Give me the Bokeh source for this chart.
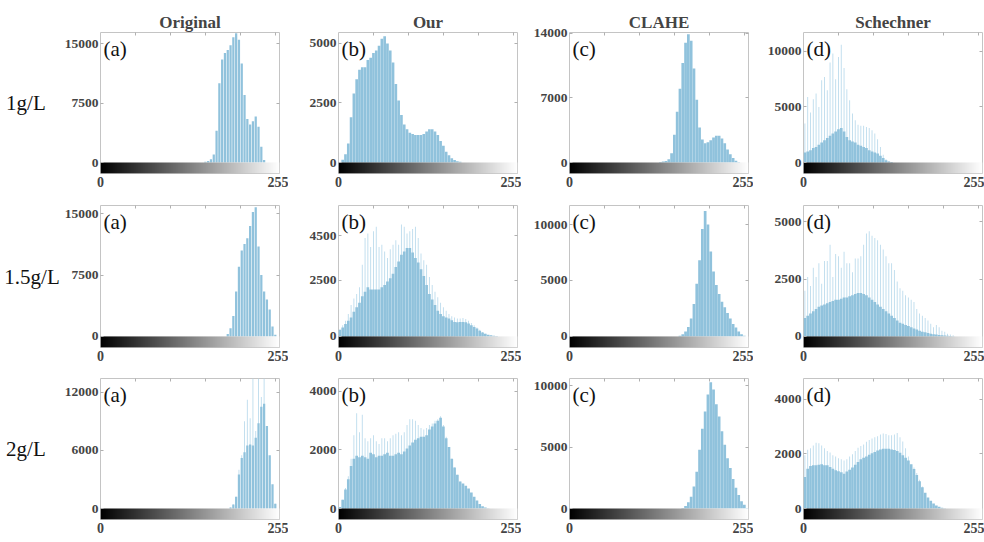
import numpy as np
from bokeh.plotting import figure
from bokeh.layouts import column, row
from bokeh.models import FixedTicker, Label, Range1d, LinearAxis
from bokeh.embed import file_html
from bokeh.resources import INLINE
from bokeh.palettes import Greys256

# ---------------- data (histogram counts, 64 bins of 4 grey levels) ----------------
COL_TITLES = ["Original", "Our", "CLAHE", "Schechner"]
ROW_LABELS = ["1g/L", "1.5g/L", "2g/L"]
PANEL_TAGS = ["(a)", "(b)", "(c)", "(d)"]
X_TICKS = [0, 256]
X_TICK_LABELS = ["0", "255"]
TOP_TICKS = [50, 100, 150, 200, 250]
BIN_WIDTH = 4
N_BINS = 64

# Original
ORIG_1G_START = 37
ORIG_1G = [100, 200, 400, 1000, 4000, 10000, 13000, 13800, 14200, 14800, 15800, 16300,
           15500, 12500, 8500, 5500, 4800, 5200, 5800, 4500, 2000, 300]
ORIG_15G_START = 45
ORIG_15G = [300, 1000, 2500, 5500, 8500, 10500, 11300, 12000, 13500, 15200, 15800, 11000,
            7500, 5500, 4500, 3300, 1200, 200]
ORIG_2G_START = 46
ORIG_2G = [100, 400, 1200, 3500, 5200, 5800, 6500, 6600, 6500, 7300, 8800, 10500, 10800,
           8500, 5500, 2500, 500]
ORIG_2G_SPIKES = [100, 400, 1200, 4000, 5500, 9000, 11200, 9300, 13500, 8000, 13500, 11500,
                  13500, 8000, 5000, 2000, 500]

# Our
OUR_1G = [20, 120, 350, 800, 1900, 2900, 3500, 3900, 4000, 4000, 4300, 4400, 4600, 4700, 4900,
          5200, 5300, 5000, 4700, 4200, 3300, 2600, 2000, 1600, 1400, 1250, 1200, 1150, 1150,
          1150, 1200, 1300, 1400, 1400, 1300, 1150, 900, 700, 450, 300, 180, 100, 50, 30]
OUR_15G = [300, 400, 550, 700, 850, 1100, 1300, 1500, 1800, 2000, 2200, 2100, 2100, 2100, 2100,
           2200, 2300, 2450, 2600, 2800, 3100, 3350, 3650, 3800, 3950, 3950, 3750, 3500, 3300,
           3000, 2700, 2300, 1900, 1650, 1400, 1150, 1000, 900, 850, 800, 720, 650, 630, 650,
           650, 630, 580, 500, 420, 350, 250, 180, 120, 80, 50, 30, 20]
OUR_15G_SPIKES = [300, 500, 700, 1000, 1400, 1700, 1900, 2200, 3200, 4400, 4600, 4000, 4700,
                  4900, 4000, 4100, 3800, 3500, 3900, 4100, 4300, 4100, 5000, 4900, 4600, 4700,
                  4800, 4900, 4400, 3700, 3400, 3200, 2650, 2300, 2000, 1750, 1500, 1300, 1150,
                  1000, 900, 850, 800, 800, 820, 780, 700, 600, 500, 400, 300, 200, 120]
OUR_2G = [50, 300, 650, 1000, 1450, 1700, 1800, 1750, 1800, 1750, 1700, 1900, 1850, 1750, 1800,
          1800, 1850, 1900, 1800, 1800, 1850, 1900, 1850, 1950, 2050, 2150, 2250, 2350, 2400,
          2450, 2450, 2500, 2700, 2800, 2900, 3000, 3100, 2800, 2400, 2100, 1700, 1400, 1150,
          920, 850, 780, 680, 550, 400, 270, 150, 80, 30, 10]
OUR_2G_SPIKES = [50, 300, 700, 1100, 1700, 2500, 3250, 2600, 3200, 2400, 2300, 2400, 2500, 2300,
                 2200, 2400, 2400, 2300, 2400, 2500, 2550, 2600, 2500, 2600, 2850, 3050, 3050,
                 3000, 2850, 2750, 2700, 2750, 2850, 2900, 3000, 3050, 3150, 2850, 2450, 2100,
                 1700, 1400, 1150, 920]

# CLAHE
CLAHE_1G_START = 32
CLAHE_1G = [50, 100, 150, 350, 1000, 3000, 5500, 8000, 10800, 13000, 13900, 13200, 10200, 6800,
            3800, 2500, 2100, 2200, 2400, 2700, 2900, 2900, 2600, 2100, 1400, 900, 500, 200, 50]
CLAHE_15G_START = 39
CLAHE_15G = [50, 200, 450, 850, 1600, 2900, 4700, 6800, 9600, 11200, 10000, 7600, 5800, 4600,
             3800, 3100, 2600, 2100, 1600, 1100, 800, 450, 200, 50]
CLAHE_2G_START = 40
CLAHE_2G = [50, 200, 500, 950, 1800, 3000, 4800, 6500, 7900, 9300, 10300, 9700, 8500, 7500,
            6300, 5200, 4100, 3300, 2400, 1700, 1100, 600, 300, 50]

# Schechner
SCH_1G = [900, 1000, 1100, 1300, 1400, 1600, 1800, 2000, 2200, 2400, 2600, 2800, 3000, 3100,
          2800, 2300, 2000, 1900, 1800, 1600, 1500, 1400, 1300, 1100, 1000, 900, 800, 600, 400,
          200, 100, 50]
SCH_1G_SPIKES = [3500, 5900, 4500, 5700, 6200, 5000, 7400, 7700, 6500, 9000, 9800, 7500, 9500,
                 10600, 8500, 6600, 5600, 4400, 3800, 3400, 3300, 3300, 3200, 3100, 2900, 2600,
                 2100, 1400, 700, 300, 100, 50]
SCH_15G = [800, 900, 1000, 1100, 1200, 1300, 1350, 1400, 1450, 1500, 1550, 1600, 1600, 1650,
           1700, 1700, 1750, 1800, 1850, 1900, 1900, 1850, 1800, 1700, 1600, 1500, 1400, 1300,
           1200, 1100, 1000, 900, 800, 700, 600, 550, 500, 450, 400, 350, 300, 250, 200, 180,
           150, 120, 100, 80, 60, 50, 40, 30, 20, 10]
SCH_15G_SPIKES = [2000, 2600, 2200, 3000, 2600, 3200, 2300, 3300, 3300, 4000, 2600, 3600, 3500,
                  3000, 3700, 3200, 3200, 2800, 3400, 3400, 3500, 4000, 4500, 4600, 4400, 4300,
                  4200, 4000, 3800, 3500, 3200, 3200, 2900, 2400, 2100, 2000, 1800, 1700, 1600,
                  1500, 1200, 1000, 900, 800, 700, 550, 400, 500, 400, 250, 200, 120, 80, 50]
SCH_2G = [1150, 1450, 1550, 1580, 1580, 1600, 1620, 1580, 1580, 1520, 1450, 1400, 1360, 1320,
          1270, 1350, 1420, 1500, 1600, 1700, 1800, 1850, 1900, 1960, 2020, 2060, 2120, 2160,
          2180, 2180, 2180, 2160, 2140, 2100, 2040, 1950, 1850, 1750, 1620, 1440, 1220, 1000,
          780, 580, 400, 280, 180, 110, 60, 30, 10]
SCH_2G_SPIKES = [1950, 2150, 2200, 2300, 2400, 2380, 2300, 2200, 2100, 2050, 1950, 1900, 1840,
                 1800, 1750, 1800, 1900, 1980, 2100, 2220, 2280, 2340, 2440, 2500, 2560, 2600,
                 2640, 2700, 2740, 2720, 2680, 2680, 2700, 2760, 2600, 2450, 2200, 1900, 1600,
                 1500, 1300, 1050, 800]

Y_MAX = [[16400, 5460, 14100, 11700],
         [16000, 5850, 11700, 5720],
         [13400, 4440, 10600, 4750]]
Y_TICKS = [[[0, 7500, 15000], [0, 2500, 5000], [0, 7000, 14000], [0, 5000, 10000]],
           [[0, 7500, 15000], [0, 2500, 4500], [0, 5000, 10000], [0, 2500, 5000]],
           [[0, 6000, 12000], [0, 2000, 4000], [0, 5000, 10000], [0, 2000, 4000]]]

# (base start, base, spike start, spikes)
PANELS = [
    [(ORIG_1G_START, ORIG_1G, None, None), (0, OUR_1G, None, None),
     (CLAHE_1G_START, CLAHE_1G, None, None), (0, SCH_1G, 0, SCH_1G_SPIKES)],
    [(ORIG_15G_START, ORIG_15G, None, None), (0, OUR_15G, 0, OUR_15G_SPIKES),
     (CLAHE_15G_START, CLAHE_15G, None, None), (0, SCH_15G, 0, SCH_15G_SPIKES)],
    [(ORIG_2G_START, ORIG_2G, ORIG_2G_START, ORIG_2G_SPIKES), (0, OUR_2G, 0, OUR_2G_SPIKES),
     (CLAHE_2G_START, CLAHE_2G, None, None), (0, SCH_2G, 0, SCH_2G_SPIKES)],
]

# ---------------- style / geometry ----------------
BASE_COLOR = "#90c2dc"
SPIKE_COLOR = "#bddced"
FRAME_COLOR = "#c4c4c4"
TICK_COLOR = "#b0b0b0"
SERIF = "Liberation Serif"
FRAME_W = [179, 179, 179, 179]
FRAME_H = [141, 142, 141]
LEFT = [100, 50, 48, 50]
RIGHT = [9, 4, 5, 2]
TOP = [32, 10, 10]
BOTTOM = [22, 21, 20]
BAR_W = [3.2, 3.8, 3.9, 3.8]
ROW_LABEL_STANDOFF = [16, 2, 16]
GRAD_FRAC = 11.0 / 130.0


def pad(start, vals):
    arr = np.zeros(N_BINS)
    arr[start:start + len(vals)] = vals
    return arr


def mirror_axis(ticks):
    return LinearAxis(ticker=FixedTicker(ticks=ticks),
                      major_label_overrides={t: "" for t in ticks},
                      major_label_text_font_size="1px", major_label_standoff=0,
                      major_tick_in=3, major_tick_out=0, axis_line_color=None,
                      major_tick_line_color=TICK_COLOR, minor_tick_line_color=None)


centers = np.arange(N_BINS) * BIN_WIDTH + BIN_WIDTH / 2.0
rows = []
for r in range(3):
    figs = []
    for c in range(4):
        ymax = Y_MAX[r][c]
        g = ymax * GRAD_FRAC
        p = figure(width=LEFT[c] + FRAME_W[c] + RIGHT[c], height=TOP[r] + FRAME_H[r] + BOTTOM[r],
                   x_range=Range1d(0, 256), y_range=Range1d(-g, ymax),
                   output_backend="svg", toolbar_location=None,
                   min_border_left=LEFT[c], min_border_right=RIGHT[c],
                   min_border_top=TOP[r], min_border_bottom=BOTTOM[r])
        p.xgrid.visible = False
        p.ygrid.visible = False
        p.outline_line_color = FRAME_COLOR
        p.background_fill_color = "white"
        p.border_fill_color = "white"

        bstart, base, sstart, spikes = PANELS[r][c]
        if spikes is not None:
            p.vbar(x=centers, top=pad(sstart, spikes), width=1.3, bottom=0,
                   fill_color=SPIKE_COLOR, line_color=None)
        p.vbar(x=centers, top=pad(bstart, base), width=BAR_W[c], bottom=0,
               fill_color=BASE_COLOR, line_color=None)

        # grey-level bar below the histogram
        p.image(image=[np.arange(256, dtype=float).reshape(1, 256)], x=0, y=-g, dw=256, dh=g,
                palette=Greys256)

        # main axes
        yax = p.yaxis[0]
        xax = p.xaxis[0]
        yax.ticker = FixedTicker(ticks=Y_TICKS[r][c])
        yax.major_label_text_font = SERIF
        yax.major_label_text_font_style = "bold"
        yax.major_label_text_font_size = "13.5px"
        yax.major_label_standoff = 2
        yax.major_tick_out = 0
        yax.major_tick_in = 3
        yax.major_tick_line_color = TICK_COLOR
        yax.minor_tick_line_color = None
        yax.axis_line_color = None
        if c == 0:
            yax.axis_label = ROW_LABELS[r]
            yax.axis_label_orientation = "horizontal"
            yax.axis_label_text_font = SERIF
            yax.axis_label_text_font_style = "normal"
            yax.axis_label_text_font_size = "21px"
            yax.axis_label_text_color = "#111111"
            yax.axis_label_standoff = ROW_LABEL_STANDOFF[r]

        xax.ticker = FixedTicker(ticks=X_TICKS)
        xax.major_label_overrides = dict(zip(X_TICKS, X_TICK_LABELS))
        xax.major_label_text_align = "right"
        xax.major_label_text_font = SERIF
        xax.major_label_text_font_style = "bold"
        xax.major_label_text_font_size = "14px"
        xax.major_label_standoff = 3
        xax.major_tick_out = 0
        xax.major_tick_in = 0
        xax.minor_tick_line_color = None
        xax.axis_line_color = None

        # inward ticks on the top and right edges of the box
        p.add_layout(mirror_axis(TOP_TICKS), "above")
        p.add_layout(mirror_axis(Y_TICKS[r][c][1:]), "right")

        p.add_layout(Label(x=0, y=ymax, text=PANEL_TAGS[c], text_align="left",
                           text_baseline="top", x_offset=3, y_offset=-4, text_font=SERIF,
                           text_font_size="21px", text_color="#111111"))
        if r == 0:
            p.title.text = COL_TITLES[c]
            p.title.align = "center"
            p.title.text_font = SERIF
            p.title.text_font_style = "bold"
            p.title.text_font_size = "17px"
            p.title.standoff = 2
        figs.append(p)
    rows.append(row(*figs, spacing=0))

layout = column(*rows, spacing=0)
open("out.html", "w").write(file_html(layout, INLINE))
